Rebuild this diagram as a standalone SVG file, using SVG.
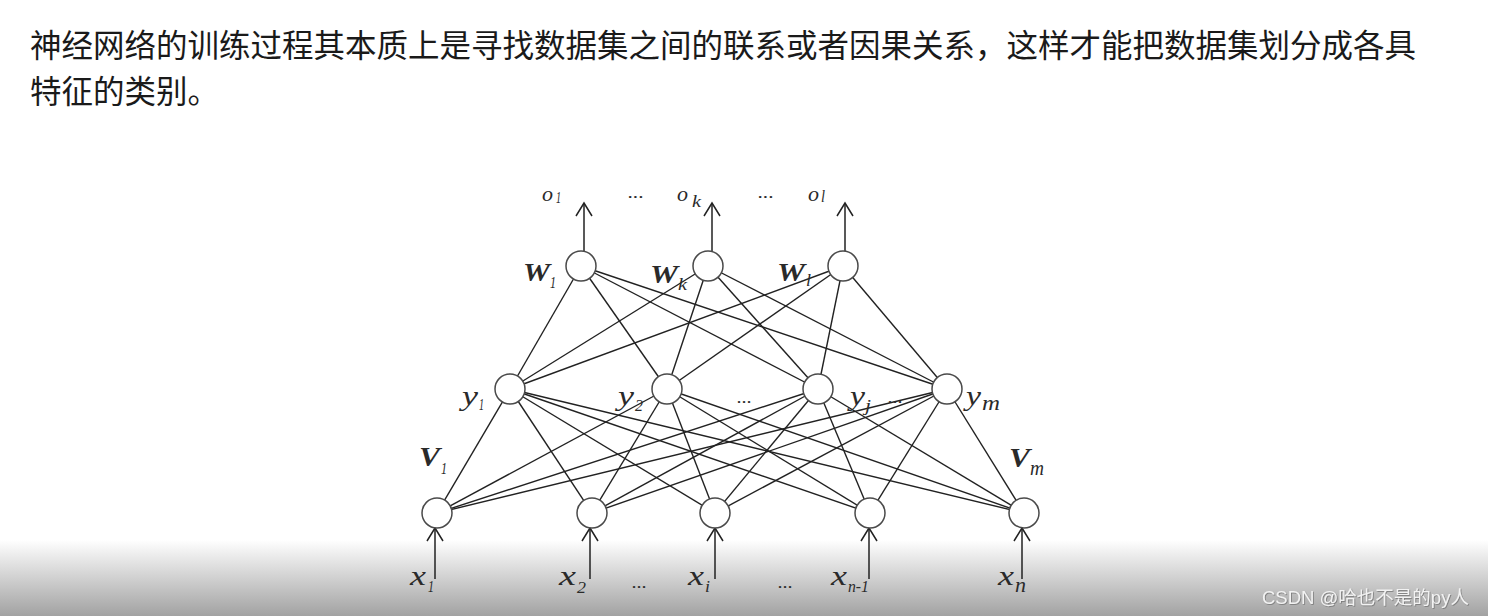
<svg xmlns="http://www.w3.org/2000/svg" width="1488" height="616" viewBox="0 0 1488 616">
<defs>
<linearGradient id="bottomFade" x1="0" y1="0" x2="0" y2="1">
<stop offset="0" stop-color="#ffffff"/>
<stop offset="0.2" stop-color="#ececec"/>
<stop offset="1" stop-color="#a2a2a2"/>
</linearGradient>
<filter id="wmShadow" x="-5%" y="-30%" width="110%" height="160%">
<feDropShadow dx="0.8" dy="0.8" stdDeviation="0.6" flood-color="#707070" flood-opacity="0.9"/>
</filter>
</defs>
<style>
.para{font-family:"Noto Sans CJK SC","Noto Sans",sans-serif;font-size:31.5px;fill:#1a1a1a;}
.wm{font-family:"Liberation Sans","Noto Sans CJK SC",sans-serif;font-size:18.5px;fill:#f2f2f2;}
.edge{stroke:#222222;stroke-width:1.4;fill:none;}
.arr{stroke:#222222;stroke-width:1.5;fill:none;}
.node{fill:#ffffff;stroke:#4a4a4a;stroke-width:1.5;}
.m{font-family:"Liberation Serif","DejaVu Serif",serif;font-style:italic;fill:#2a2a2a;}
.b{font-family:"Liberation Serif","DejaVu Serif",serif;font-style:italic;font-weight:bold;fill:#2a2a2a;}
</style>
<rect x="0" y="0" width="1488" height="616" fill="#ffffff"/>
<rect x="0" y="540" width="1488" height="76" fill="url(#bottomFade)"/>

<text class="para" x="30" y="56.5">神经网络的训练过程其本质上是寻找数据集之间的联系或者因果关系，这样才能把数据集划分成各具</text>
<text class="para" x="30" y="102.5">特征的类别。</text>

<g id="connectors">
<line class="edge" x1="581" y1="266" x2="510" y2="389"/>
<line class="edge" x1="581" y1="266" x2="667" y2="389"/>
<line class="edge" x1="581" y1="266" x2="818" y2="389"/>
<line class="edge" x1="581" y1="266" x2="947" y2="389"/>
<line class="edge" x1="708" y1="266" x2="510" y2="389"/>
<line class="edge" x1="708" y1="266" x2="667" y2="389"/>
<line class="edge" x1="708" y1="266" x2="818" y2="389"/>
<line class="edge" x1="708" y1="266" x2="947" y2="389"/>
<line class="edge" x1="843" y1="266" x2="510" y2="389"/>
<line class="edge" x1="843" y1="266" x2="667" y2="389"/>
<line class="edge" x1="843" y1="266" x2="818" y2="389"/>
<line class="edge" x1="843" y1="266" x2="947" y2="389"/>

<line class="edge" x1="510" y1="389" x2="437" y2="513"/>
<line class="edge" x1="510" y1="389" x2="592" y2="513"/>
<line class="edge" x1="510" y1="389" x2="715" y2="513"/>
<line class="edge" x1="510" y1="389" x2="870" y2="513"/>
<line class="edge" x1="510" y1="389" x2="1024" y2="513"/>
<line class="edge" x1="667" y1="389" x2="437" y2="513"/>
<line class="edge" x1="667" y1="389" x2="592" y2="513"/>
<line class="edge" x1="667" y1="389" x2="715" y2="513"/>
<line class="edge" x1="667" y1="389" x2="870" y2="513"/>
<line class="edge" x1="667" y1="389" x2="1024" y2="513"/>
<line class="edge" x1="818" y1="389" x2="437" y2="513"/>
<line class="edge" x1="818" y1="389" x2="592" y2="513"/>
<line class="edge" x1="818" y1="389" x2="715" y2="513"/>
<line class="edge" x1="818" y1="389" x2="870" y2="513"/>
<line class="edge" x1="818" y1="389" x2="1024" y2="513"/>
<line class="edge" x1="947" y1="389" x2="437" y2="513"/>
<line class="edge" x1="947" y1="389" x2="592" y2="513"/>
<line class="edge" x1="947" y1="389" x2="715" y2="513"/>
<line class="edge" x1="947" y1="389" x2="870" y2="513"/>
<line class="edge" x1="947" y1="389" x2="1024" y2="513"/>

<line class="arr" x1="584" y1="251" x2="584" y2="203"/>
<polyline class="arr" points="576,216 584,203 592,216"/>
<line class="arr" x1="712" y1="251" x2="712" y2="203"/>
<polyline class="arr" points="704,216 712,203 720,216"/>
<line class="arr" x1="845" y1="251" x2="845" y2="203"/>
<polyline class="arr" points="837,216 845,203 853,216"/>

<line class="arr" x1="435" y1="579" x2="435" y2="528"/>
<polyline class="arr" points="427,541 435,528 443,541"/>
<line class="arr" x1="590" y1="579" x2="590" y2="528"/>
<polyline class="arr" points="582,541 590,528 598,541"/>
<line class="arr" x1="715" y1="579" x2="715" y2="528"/>
<polyline class="arr" points="707,541 715,528 723,541"/>
<line class="arr" x1="869" y1="579" x2="869" y2="528"/>
<polyline class="arr" points="861,541 869,528 877,541"/>
<line class="arr" x1="1022" y1="579" x2="1022" y2="528"/>
<polyline class="arr" points="1014,541 1022,528 1030,541"/>
</g>

<g id="out-labels">
<text class="m" x="542" y="201" font-size="21" textLength="11" lengthAdjust="spacingAndGlyphs">o</text>
<text class="m" x="556" y="203" font-size="16" textLength="5" lengthAdjust="spacingAndGlyphs">1</text>
<text class="m" x="628" y="198" font-size="16" textLength="16" lengthAdjust="spacingAndGlyphs">...</text>
<text class="m" x="677" y="201" font-size="21" textLength="11" lengthAdjust="spacingAndGlyphs">o</text>
<text class="m" x="692" y="207" font-size="17" textLength="9" lengthAdjust="spacingAndGlyphs">k</text>
<text class="m" x="758" y="198" font-size="16" textLength="16" lengthAdjust="spacingAndGlyphs">...</text>
<text class="m" x="808" y="201" font-size="21" textLength="11" lengthAdjust="spacingAndGlyphs">o</text>
<text class="m" x="821" y="202" font-size="16" textLength="4" lengthAdjust="spacingAndGlyphs">l</text>
</g>

<g id="node-o1">
<ellipse class="node" cx="581" cy="266" rx="15" ry="15"/>
<text class="b" x="523" y="281" font-size="26" textLength="27" lengthAdjust="spacingAndGlyphs">W</text>
<text class="m" x="550" y="288" font-size="17" textLength="6" lengthAdjust="spacingAndGlyphs">1</text>
</g>
<g id="node-ok">
<ellipse class="node" cx="708" cy="266" rx="15" ry="15"/>
<text class="b" x="650" y="283" font-size="26" textLength="28" lengthAdjust="spacingAndGlyphs">W</text>
<text class="m" x="678" y="290" font-size="17" textLength="9" lengthAdjust="spacingAndGlyphs">k</text>
</g>
<g id="node-ol">
<ellipse class="node" cx="843" cy="266" rx="15" ry="15"/>
<text class="b" x="777" y="281" font-size="26" textLength="28" lengthAdjust="spacingAndGlyphs">W</text>
<text class="m" x="806" y="286" font-size="17" textLength="5" lengthAdjust="spacingAndGlyphs">l</text>
</g>

<g id="node-y1">
<ellipse class="node" cx="510" cy="389" rx="15" ry="15"/>
<text class="m" x="462" y="405" font-size="28" textLength="16" lengthAdjust="spacingAndGlyphs">y</text>
<text class="m" x="479" y="410" font-size="17" textLength="5" lengthAdjust="spacingAndGlyphs">1</text>
</g>
<g id="node-y2">
<ellipse class="node" cx="667" cy="389" rx="15" ry="15"/>
<text class="m" x="618" y="405" font-size="28" textLength="16" lengthAdjust="spacingAndGlyphs">y</text>
<text class="m" x="635" y="411" font-size="17" textLength="8" lengthAdjust="spacingAndGlyphs">2</text>
</g>
<text class="m" x="737" y="403" font-size="16" textLength="15" lengthAdjust="spacingAndGlyphs">...</text>
<g id="node-yj">
<ellipse class="node" cx="818" cy="389" rx="15" ry="15"/>
<text class="m" x="850" y="405" font-size="28" textLength="15" lengthAdjust="spacingAndGlyphs">y</text>
<text class="m" x="865" y="411" font-size="17" textLength="6" lengthAdjust="spacingAndGlyphs">j</text>
</g>
<text class="m" x="888" y="403" font-size="16" textLength="15" lengthAdjust="spacingAndGlyphs">...</text>
<g id="node-ym">
<ellipse class="node" cx="947" cy="389" rx="15" ry="15"/>
<text class="m" x="966" y="405" font-size="28" textLength="15" lengthAdjust="spacingAndGlyphs">y</text>
<text class="m" x="982" y="410" font-size="20" textLength="18" lengthAdjust="spacingAndGlyphs">m</text>
</g>

<g id="weights-v">
<text class="b" x="419" y="466" font-size="27" textLength="21" lengthAdjust="spacingAndGlyphs">V</text>
<text class="m" x="441" y="474" font-size="17" textLength="6" lengthAdjust="spacingAndGlyphs">1</text>
<text class="b" x="1009" y="467" font-size="27" textLength="21" lengthAdjust="spacingAndGlyphs">V</text>
<text class="m" x="1030" y="475" font-size="20" textLength="14" lengthAdjust="spacingAndGlyphs">m</text>
</g>

<g id="node-x1">
<ellipse class="node" cx="437" cy="513" rx="15" ry="15"/>
<text class="m" x="410" y="585" font-size="28" textLength="16" lengthAdjust="spacingAndGlyphs">x</text>
<text class="m" x="428" y="592" font-size="17" textLength="6" lengthAdjust="spacingAndGlyphs">1</text>
</g>
<g id="node-x2">
<ellipse class="node" cx="592" cy="513" rx="15" ry="15"/>
<text class="m" x="559" y="585" font-size="28" textLength="17" lengthAdjust="spacingAndGlyphs">x</text>
<text class="m" x="577" y="593" font-size="17" textLength="9" lengthAdjust="spacingAndGlyphs">2</text>
</g>
<text class="m" x="632" y="588" font-size="16" textLength="15" lengthAdjust="spacingAndGlyphs">...</text>
<g id="node-xi">
<ellipse class="node" cx="715" cy="513" rx="15" ry="15"/>
<text class="m" x="688" y="585" font-size="28" textLength="16" lengthAdjust="spacingAndGlyphs">x</text>
<text class="m" x="705" y="592" font-size="17" textLength="5" lengthAdjust="spacingAndGlyphs">i</text>
</g>
<text class="m" x="778" y="588" font-size="16" textLength="15" lengthAdjust="spacingAndGlyphs">...</text>
<g id="node-xn1">
<ellipse class="node" cx="870" cy="513" rx="15" ry="15"/>
<text class="m" x="831" y="585" font-size="28" textLength="16" lengthAdjust="spacingAndGlyphs">x</text>
<text class="m" x="848" y="592" font-size="17" textLength="21" lengthAdjust="spacingAndGlyphs">n-1</text>
</g>
<g id="node-xn">
<ellipse class="node" cx="1024" cy="513" rx="15" ry="15"/>
<text class="m" x="998" y="585" font-size="28" textLength="16" lengthAdjust="spacingAndGlyphs">x</text>
<text class="m" x="1015" y="592" font-size="20" textLength="11" lengthAdjust="spacingAndGlyphs">n</text>
</g>

<text class="wm" x="1262" y="604" filter="url(#wmShadow)">CSDN @哈也不是的py人</text>
</svg>
